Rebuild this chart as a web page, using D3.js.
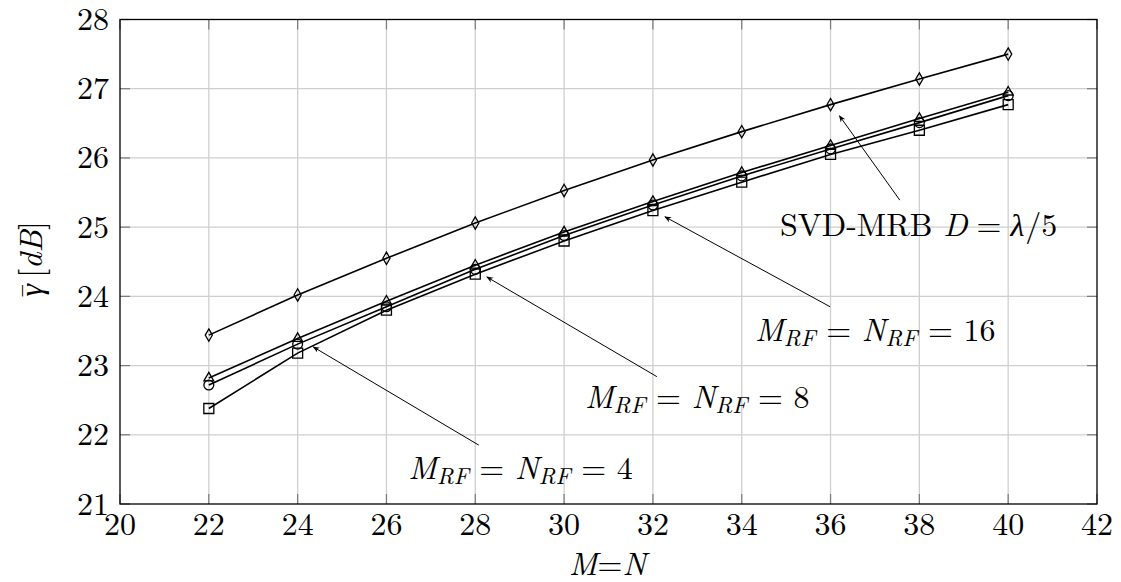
<!DOCTYPE html>
<html>
<head>
<meta charset="utf-8">
<script src="https://cdn.jsdelivr.net/npm/d3@7"></script>
<style>
  body { margin: 0; background: #fff; }
</style>
</head>
<body>
<div id="chart"></div>
<script>
// values
let mn = [22, 24, 26, 28, 30, 32, 34, 36, 38, 40];
let svdMrb = [23.44, 24.02, 24.55, 25.06, 25.53, 25.97, 26.38, 26.77, 27.14, 27.50];
let rf16 = [22.82, 23.39, 23.93, 24.45, 24.93, 25.37, 25.79, 26.18, 26.57, 26.95];
let rf8 = [22.72, 23.31, 23.85, 24.39, 24.88, 25.32, 25.74, 26.13, 26.51, 26.90];
let rf4 = [22.38, 23.18, 23.80, 24.32, 24.80, 25.24, 25.65, 26.05, 26.40, 26.77];
let xTicks = [20, 22, 24, 26, 28, 30, 32, 34, 36, 38, 40, 42];
let yTicks = [21, 22, 23, 24, 25, 26, 27, 28];

// annotation text and arrows, in data coords
let notes = [
  { rf: null, tip: [36.2, 26.61], tail: [37.56, 25.39], text: [34.86, 24.87] },
  { rf: "16", tip: [32.27, 25.15], tail: [35.99, 23.85], text: [34.30, 23.36] },
  { rf: "8", tip: [28.26, 24.28], tail: [32.09, 22.84], text: [30.47, 22.39] },
  { rf: "4", tip: [24.35, 23.27], tail: [28.08, 21.85], text: [26.49, 21.36] }
];

let font = "'Latin Modern Roman', 'Liberation Serif', serif";
let fs = 32, subFs = 23;
let width = 1121, height = 582;
let margin = { top: 19.5, right: 24, bottom: 78, left: 120 };

let svg = d3.select("#chart").append("svg")
  .attr("width", width).attr("height", height)
  .attr("font-family", font);

let x = d3.scaleLinear().domain([20, 42]).range([margin.left, width - margin.right]);
let y = d3.scaleLinear().domain([21, 28]).range([height - margin.bottom, margin.top]);

svg.append("defs").append("marker")
  .attr("id", "arrow")
  .attr("viewBox", "0 0 10 10")
  .attr("refX", 9).attr("refY", 5)
  .attr("markerWidth", 7).attr("markerHeight", 7)
  .attr("markerUnits", "userSpaceOnUse")
  .attr("orient", "auto")
  .append("path")
  .attr("d", "M0,1 L10,5 L0,9 L3,5 Z")
  .attr("fill", "#000");

// grid
svg.append("g").selectAll("line").data(xTicks.slice(1, -1)).enter().append("line")
  .attr("x1", d => x(d)).attr("x2", d => x(d))
  .attr("y1", y(21)).attr("y2", y(28))
  .attr("stroke", "#cfcfcf").attr("stroke-width", 1.3);
svg.append("g").selectAll("line").data(yTicks.slice(1, -1)).enter().append("line")
  .attr("x1", x(20)).attr("x2", x(42))
  .attr("y1", d => y(d)).attr("y2", d => y(d))
  .attr("stroke", "#cfcfcf").attr("stroke-width", 1.3);

// inward ticks on all four sides
let tl = 10;
let ticks = svg.append("g").attr("stroke", "#7a7a7a").attr("stroke-width", 1.2);
xTicks.forEach(d => {
  ticks.append("line").attr("x1", x(d)).attr("x2", x(d)).attr("y1", y(21)).attr("y2", y(21) - tl);
  ticks.append("line").attr("x1", x(d)).attr("x2", x(d)).attr("y1", y(28)).attr("y2", y(28) + tl);
});
yTicks.forEach(d => {
  ticks.append("line").attr("x1", x(20)).attr("x2", x(20) + tl).attr("y1", y(d)).attr("y2", y(d));
  ticks.append("line").attr("x1", x(42)).attr("x2", x(42) - tl).attr("y1", y(d)).attr("y2", y(d));
});

// frame
svg.append("rect")
  .attr("x", x(20)).attr("y", y(28))
  .attr("width", x(42) - x(20)).attr("height", y(21) - y(28))
  .attr("fill", "none").attr("stroke", "#000").attr("stroke-width", 1.3);

// tick labels
svg.append("g").selectAll("text").data(xTicks).enter().append("text")
  .attr("x", d => x(d)).attr("y", y(21) + 31)
  .attr("text-anchor", "middle").attr("font-size", fs)
  .text(d => d);
svg.append("g").selectAll("text").data(yTicks).enter().append("text")
  .attr("x", x(20) - 11).attr("y", d => y(d) + 10.5)
  .attr("text-anchor", "end").attr("font-size", fs)
  .text(d => d);

// axis titles
let xt = svg.append("text")
  .attr("x", (x(20) + x(42)) / 2 - 1).attr("y", 575)
  .attr("text-anchor", "middle").attr("font-size", fs);
xt.append("tspan").attr("font-style", "italic").text("M");
xt.append("tspan").text("=");
xt.append("tspan").attr("font-style", "italic").text("N");

let yt = svg.append("text")
  .attr("transform", "translate(42,260) rotate(-90)")
  .attr("text-anchor", "middle").attr("font-size", fs);
yt.append("tspan").attr("font-style", "italic").text("\u03b3");
yt.append("tspan").attr("dx", -15).text("\u00af");
yt.append("tspan").attr("dx", 5).text("[");
yt.append("tspan").attr("font-style", "italic").text("dB");
yt.append("tspan").text("]");

// series
let series = [
  { vals: svdMrb, shape: "diamond" },
  { vals: rf16, shape: "triangle" },
  { vals: rf8, shape: "circle" },
  { vals: rf4, shape: "square" }
];
let line = d3.line().x(d => x(d[0])).y(d => y(d[1]));
let symbols = {
  diamond: d3.symbol().type(d3.symbolDiamond).size(44),
  triangle: d3.symbol().type(d3.symbolTriangle).size(42),
  circle: d3.symbol().type(d3.symbolCircle).size(76),
  square: d3.symbol().type(d3.symbolSquare).size(100)
};
series.forEach(s => {
  let pts = mn.map((m, i) => [m, s.vals[i]]);
  svg.append("path").datum(pts)
    .attr("d", line).attr("fill", "none")
    .attr("stroke", "#000").attr("stroke-width", 1.6);
  svg.append("g").selectAll("path").data(pts).enter().append("path")
    .attr("transform", d => "translate(" + x(d[0]) + "," + y(d[1]) + ")")
    .attr("d", symbols[s.shape]())
    .attr("fill", "none").attr("stroke", "#000").attr("stroke-width", 1.3);
});

// annotations
notes.forEach(n => {
  svg.append("line")
    .attr("x1", x(n.tail[0])).attr("y1", y(n.tail[1]))
    .attr("x2", x(n.tip[0])).attr("y2", y(n.tip[1]))
    .attr("stroke", "#000").attr("stroke-width", 1)
    .attr("marker-end", "url(#arrow)");
  let t = svg.append("text")
    .attr("x", x(n.text[0])).attr("y", y(n.text[1]))
    .attr("font-size", fs);
  if (n.rf === null) {
    t.append("tspan").text("SVD-MRB");
    t.append("tspan").attr("dx", 11).attr("font-style", "italic").text("D");
    t.append("tspan").attr("dx", 9).text("=");
    t.append("tspan").attr("dx", 9).attr("font-style", "italic").text("\u03bb");
    t.append("tspan").attr("dx", 1).text("/5");
  } else {
    t.append("tspan").attr("font-style", "italic").text("M");
    t.append("tspan").attr("font-style", "italic").attr("font-size", subFs).attr("dy", 5).text("RF");
    t.append("tspan").attr("dy", -5).text(" = ");
    t.append("tspan").attr("font-style", "italic").text("N");
    t.append("tspan").attr("font-style", "italic").attr("font-size", subFs).attr("dy", 5).text("RF");
    t.append("tspan").attr("dy", -5).text(" = " + n.rf);
  }
});
</script>
</body>
</html>
